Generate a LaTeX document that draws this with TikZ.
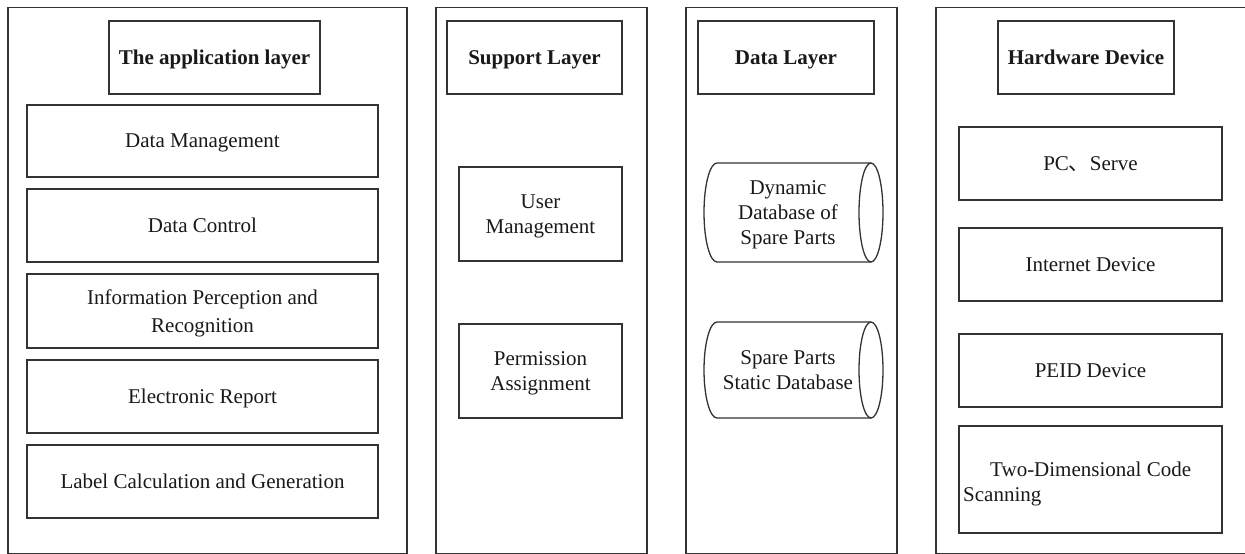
\documentclass[tikz,border=0pt]{standalone}
\usepackage{fontspec}
\setmainfont{Liberation Serif}
\newfontfamily\cjk{Noto Sans CJK SC}
\begin{document}
\begin{tikzpicture}[x=1pt,y=-1pt,
  frame/.style={draw=black!80, line width=1.3pt},
  txt/.style={font=\fontsize{21}{25}\selectfont, text=black!90, text depth=0pt},
  box/.style={frame, txt, rectangle, inner sep=0pt, align=center},
  head/.style={box, font=\fontsize{21}{25}\selectfont\bfseries},
  dbtext/.style={txt, inner sep=0pt, align=center}]
\useasboundingbox (0,0) rectangle (1245,554);
\clip (0,0) rectangle (1245,554);

% layer panels (bottom edges run along the lower border)
\draw[frame] (8,7.5) rectangle (407,553.9);
\draw[frame] (436,7.5) rectangle (647,553.9);
\draw[frame] (686,7.5) rectangle (897,553.9);
\draw[frame] (936,7.5) rectangle (1252,553.9);

% application layer
\node[head, minimum width=211, minimum height=73] (ah) at (214.5,57.5) {The application layer};
\node[box, minimum width=351, minimum height=72] (dm) at (202.5,141) {Data Management};
\node[box, minimum width=351, minimum height=73] (dc) at (202.5,225.5) {Data Control};
\node[box, minimum width=351, minimum height=74] (ip) at (202.5,311) {Information Perception and\\[3pt]Recognition};
\node[box, minimum width=351, minimum height=73] (er) at (202.5,396.5) {Electronic Report};
\node[box, minimum width=351, minimum height=73] (lc) at (202.5,481.5) {Label Calculation and Generation};

% support layer
\node[head, minimum width=175, minimum height=73] (sh) at (534.5,57.5) {Support Layer};
\node[box, minimum width=163, minimum height=94] (um) at (540.5,214) {User\\Management};
\node[box, minimum width=163, minimum height=94] (pa) at (540.5,371) {Permission\\Assignment};

% data layer: two horizontal cylinders
\node[head, minimum width=176, minimum height=73] (dh) at (786,57.5) {Data Layer};
\node[dbtext] (dyn) at (788,212.5) {Dynamic\\Database of\\Spare Parts};
\draw[frame] (871,212.5) ellipse [x radius=12, y radius=49.5];
\draw[frame] (871,163) -- (717,163) arc[start angle=270, end angle=90, x radius=13, y radius=49.5] -- (871,262);
\node[dbtext] (sta) at (788,370) {Spare Parts\\Static Database};
\draw[frame] (871,370) ellipse [x radius=12, y radius=48];
\draw[frame] (871,322) -- (717,322) arc[start angle=270, end angle=90, x radius=13, y radius=48] -- (871,418);

% hardware device
\node[head, minimum width=176, minimum height=73] (hh) at (1086,57.5) {Hardware Device};
\node[box, minimum width=263, minimum height=73] (pc) at (1090.5,163.5) {PC{\cjk 、}Serve};
\node[box, minimum width=263, minimum height=73] (id) at (1090.5,264.5) {Internet Device};
\node[box, minimum width=263, minimum height=73] (pe) at (1090.5,370.5) {PEID Device};
\node[box, minimum width=263, minimum height=107] (td) at (1090.5,479.5) {};
\node[txt, inner sep=0pt, align=left, anchor=west] (tdt) at (963,482) {\hspace*{27pt}Two-Dimensional Code\\Scanning};
\end{tikzpicture}
\end{document}
